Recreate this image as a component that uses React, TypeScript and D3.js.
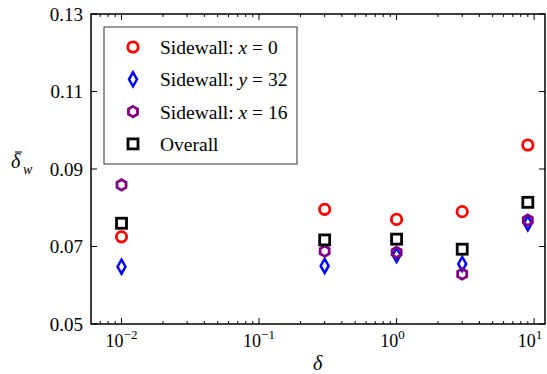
import * as d3 from "d3";

// δ values (x, log scale)
const deltas = [0.01, 0.3, 1, 3, 9];

// mean wall thickness per series
const sidewallX0 = [0.0725, 0.0796, 0.077, 0.079, 0.0962];
const sidewallY32 = [0.0648, 0.065, 0.0678, 0.0655, 0.076];
const sidewallX16 = [0.0859, 0.0688, 0.0685, 0.0629, 0.0768];
const overall = [0.076, 0.0717, 0.0719, 0.0693, 0.0814];

const yTicks = [0.05, 0.07, 0.09, 0.11, 0.13];
const xMajor = [-2, -1, 0, 1];

type Shape = "circle" | "diamond" | "hexagon" | "square";

const series: { name: string; varName: string; rest: string; color: string; shape: Shape; values: number[] }[] = [
  { name: "Sidewall: ", varName: "x", rest: " = 0", color: "#ff0000", shape: "circle", values: sidewallX0 },
  { name: "Sidewall: ", varName: "y", rest: " = 32", color: "#0000ff", shape: "diamond", values: sidewallY32 },
  { name: "Sidewall: ", varName: "x", rest: " = 16", color: "#800080", shape: "hexagon", values: sidewallX16 },
  { name: "Overall", varName: "", rest: "", color: "#000000", shape: "square", values: overall },
];

const W = 547;
const H = 374;
const left = 91;
const right = 545;
const top = 14;
const bottom = 324;
const font = "'Liberation Serif', 'Times New Roman', serif";

const x = d3.scaleLog().domain([0.006, 12]).range([left, right]);
const y = d3.scaleLinear().domain([0.05, 0.13]).range([bottom, top]);

function Marker({ shape, color, cx, cy }: { shape: Shape; color: string; cx: number; cy: number }) {
  const common = { fill: "none", stroke: color, strokeWidth: 2.8 };
  if (shape === "circle") return <circle cx={cx} cy={cy} r={5.2} {...common} />;
  if (shape === "square") return <rect x={cx - 5} y={cy - 5} width={10} height={10} {...common} />;
  if (shape === "diamond") {
    const pts = [[0, -7], [4, 0], [0, 7], [-4, 0]].map(([a, b]) => `${cx + a},${cy + b}`).join(" ");
    return <polygon points={pts} {...common} strokeWidth={2.5} />;
  }
  const r = 5.2;
  const pts = d3.range(6).map((i) => {
    const a = (Math.PI / 3) * i - Math.PI / 2;
    return `${cx + r * Math.cos(a)},${cy + r * Math.sin(a)}`;
  }).join(" ");
  return <polygon points={pts} {...common} />;
}

export default function App() {
  const [d0, d1] = x.domain();
  const minor: number[] = [];
  for (let e = -3; e <= 1; e++) {
    for (let k = 2; k <= 9; k++) {
      const v = k * Math.pow(10, e);
      if (v > d0 * 1.01 && v < d1) minor.push(v);
    }
  }

  return (
    <svg width={W} height={H} style={{ position: "absolute", left: 0, top: 0, background: "#fff" }} fontFamily={font}>
      <rect width={W} height={H} fill="#fff" />
      {/* x ticks bottom + top */}
      {xMajor.map((e) => {
        const px = x(Math.pow(10, e));
        return (
          <g key={`xm${e}`} stroke="#000" strokeWidth={1}>
            <line x1={px} x2={px} y1={bottom} y2={bottom - 6} />
            <line x1={px} x2={px} y1={top} y2={top + 6} />
          </g>
        );
      })}
      {minor.map((v) => {
        const px = x(v);
        return (
          <g key={`xn${v}`} stroke="#000" strokeWidth={1}>
            <line x1={px} x2={px} y1={bottom} y2={bottom - 3} />
            <line x1={px} x2={px} y1={top} y2={top + 3} />
          </g>
        );
      })}
      {/* y ticks left + right */}
      {yTicks.map((t) => (
        <g key={`y${t}`} stroke="#000" strokeWidth={1}>
          <line x1={left} x2={left + 6} y1={y(t)} y2={y(t)} />
          <line x1={right} x2={right - 6} y1={y(t)} y2={y(t)} />
        </g>
      ))}
      <rect x={left} y={top} width={right - left} height={bottom - top} fill="none" stroke="#000" strokeWidth={1.5} />

      {/* tick labels */}
      {yTicks.map((t) => (
        <text key={`yl${t}`} x={83} y={y(t) + 6.5} textAnchor="end" fontSize={19}>
          {t.toFixed(2)}
        </text>
      ))}
      {xMajor.map((e) => (
        <text key={`xl${e}`} x={x(Math.pow(10, e)) + (e < 0 ? 0 : -4)} y={347} textAnchor="middle" fontSize={18}>
          10
          <tspan dy={-8} fontSize={13}>{e < 0 ? `\u2212${-e}` : `${e}`}</tspan>
        </text>
      ))}

      {/* axis labels */}
      <text x={313} y={370} fontSize={20} fontStyle="italic">δ</text>
      <text x={11} y={168} fontSize={20} fontStyle="italic">δ</text>
      <line x1={15} x2={22} y1={152} y2={152} stroke="#000" strokeWidth={1} />
      <text x={23} y={174} fontSize={14} fontStyle="italic">w</text>

      {/* data */}
      {series.map((s) => (
        <g key={s.shape}>
          {s.values.map((v, i) => (
            <Marker key={i} shape={s.shape} color={s.color} cx={x(deltas[i])} cy={y(v)} />
          ))}
        </g>
      ))}

      {/* legend */}
      <rect x={104} y={27} width={193} height={137} fill="#fff" stroke="#333" strokeWidth={1} />
      {series.map((s, i) => {
        const cy = 47 + i * 32.3;
        return (
          <g key={`lg${i}`}>
            <Marker shape={s.shape} color={s.color} cx={133} cy={cy} />
            <text x={160} y={cy + 7} fontSize={19.5}>
              {s.name}
              {s.varName && <tspan fontStyle="italic">{s.varName}</tspan>}
              {s.rest}
            </text>
          </g>
        );
      })}
    </svg>
  );
}
